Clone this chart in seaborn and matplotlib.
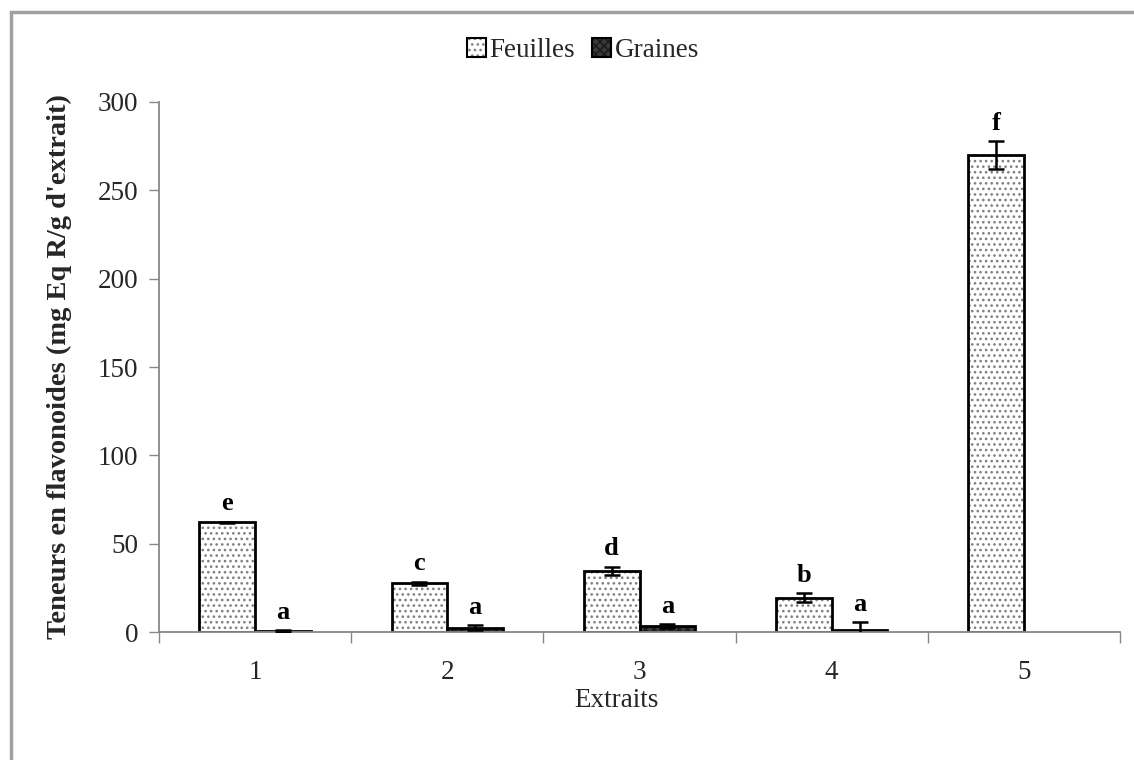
import numpy as np
import pandas as pd
import matplotlib
matplotlib.use("Agg")
import matplotlib.pyplot as plt
from matplotlib.patches import Rectangle
import seaborn as sns

# Data
extraits = ["1", "2", "3", "4", "5"]
feuilles = [62, 27.5, 34.5, 19.5, 270]
feuilles_err = [0.5, 1.0, 2.5, 2.5, 8]
graines = [0.5, 2.5, 3.5, 1.0, np.nan]
graines_err = [0.5, 1.5, 1.0, 4.5, np.nan]
lettres_feuilles = ["e", "c", "d", "b", "f"]
lettres_graines = ["a", "a", "a", "a", ""]

df = pd.DataFrame({
    "Extraits": extraits * 2,
    "Partie": ["Feuilles"] * 5 + ["Graines"] * 5,
    "Valeur": feuilles + graines,
})

sns.set_theme(style="white")
plt.rcParams["font.family"] = ["Liberation Serif", "DejaVu Serif"]
plt.rcParams["hatch.linewidth"] = 1.1

fig = plt.figure(figsize=(11.34, 7.6), dpi=100)
ax = fig.add_axes([0.1402, 0.1684, 0.8475, 0.6974])

sns.barplot(data=df, x="Extraits", y="Valeur", hue="Partie", order=extraits,
            hue_order=["Feuilles", "Graines"], width=0.58, errorbar=None,
            palette=["white", "#444444"], ax=ax)

styles = {
    "Feuilles": dict(face="white", hatch="...", hcol=(0.5, 0.5, 0.5, 1)),
    "Graines": dict(face="#3a3a3a", hatch="xxxx", hcol=(0.1, 0.1, 0.1, 1)),
}

# containers: one per hue level
for cont, name, vals, errs, lets in zip(ax.containers, ["Feuilles", "Graines"],
                                         [feuilles, graines],
                                         [feuilles_err, graines_err],
                                         [lettres_feuilles, lettres_graines]):
    st = styles[name]
    for p, v, e, l in zip(cont.patches, vals, errs, lets):
        p.set_facecolor(st["face"])
        p.set_edgecolor("black")
        p.set_linewidth(2)
        p.set_hatch(st["hatch"])
        p._hatch_color = st["hcol"]
        if np.isnan(v):
            continue
        cx = p.get_x() + p.get_width() / 2
        ax.errorbar(cx, v, yerr=e, fmt="none", ecolor="black",
                    elinewidth=1.8, capsize=6, capthick=1.8, zorder=5)
        ax.text(cx, v + e + 10, l, ha="center", va="center",
                fontsize=19, fontweight="bold", color="black")

ax.set_ylim(0, 300)
ax.set_yticks(np.arange(0, 301, 50))
ax.set_xlim(-0.5, 4.5)

# tick marks between categories, labels at centres
ax.set_xticks(np.arange(-0.5, 5, 1))
ax.set_xticklabels([])
ax.set_xticks(np.arange(5), labels=extraits, minor=True)
ax.tick_params(axis="x", which="major", direction="out", length=8, width=1,
               color="#888888", bottom=True)
ax.tick_params(axis="x", which="minor", length=0, pad=20, labelsize=19.5)
ax.tick_params(axis="y", direction="out", length=7, width=1, color="#888888",
               left=True, labelsize=19.5, pad=8)

for s in ["top", "right"]:
    ax.spines[s].set_visible(False)
for s in ["left", "bottom"]:
    ax.spines[s].set_color("#888888")
    ax.spines[s].set_linewidth(1.3)

ax.set_xlabel("Extraits", fontsize=19.5)
ax.xaxis.set_label_coords(0.476, -0.105)
ax.set_ylabel("Teneurs en flavonoides (mg Eq R/g d'extrait)", fontsize=20.5,
              fontweight="bold")
ax.yaxis.set_label_coords(-0.09, 0.5)

handles, labels = ax.get_legend_handles_labels()
if ax.get_legend():
    ax.get_legend().remove()
for h, name in zip(handles, ["Feuilles", "Graines"]):
    st = styles[name]
    h.set_facecolor(st["face"])
    h.set_edgecolor("black")
    h.set_linewidth(1.5)
    h.set_hatch(st["hatch"])
    h._hatch_color = st["hcol"]
fig.legend(handles, labels, loc="center", bbox_to_anchor=(0.514, 0.934),
           ncol=2, frameon=False, fontsize=19.5, handlelength=0.7,
           handleheight=0.7, handletextpad=0.15, columnspacing=0.6)

# outer grey frame, cut at right and bottom like the reference
fig.patches.append(Rectangle((11 / 1134, -0.1), 1.2, 1 - 12 / 760 + 0.1,
                             transform=fig.transFigure, fill=False,
                             edgecolor="#a0a0a0", linewidth=2.5))

fig.savefig("out.png", dpi=100)
